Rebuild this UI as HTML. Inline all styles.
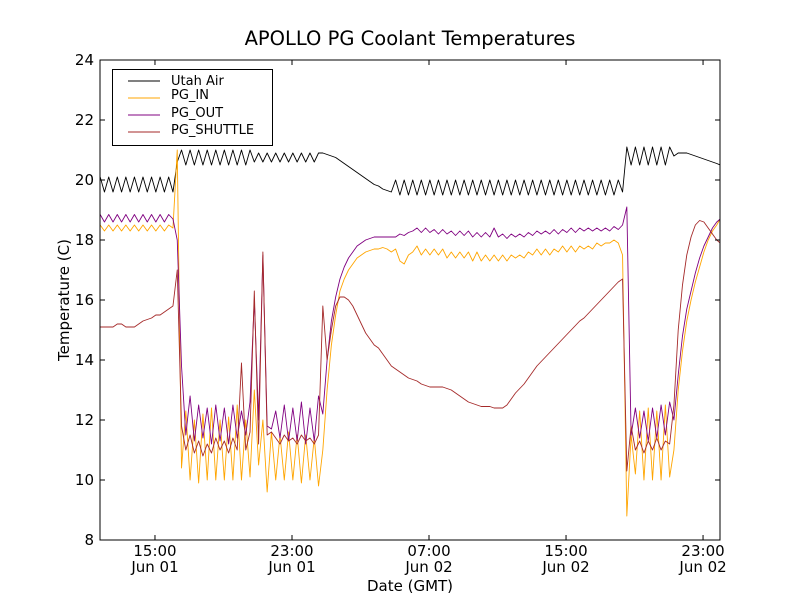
<!DOCTYPE html>
<html><head><meta charset="utf-8"><style>
body{margin:0;background:#fff}
svg{display:block;font-family:"DejaVu Sans","Liberation Sans",sans-serif}
</style></head><body>
<svg id="chart" width="800" height="600" viewBox="0 0 800 600" xmlns="http://www.w3.org/2000/svg">
<rect x="0" y="0" width="800" height="600" fill="#fff"/>
<text x="410" y="45" font-size="19.5" text-anchor="middle">APOLLO PG Coolant Temperatures</text>
<text x="410" y="591" font-size="15" text-anchor="middle">Date (GMT)</text>
<text transform="translate(69,300) rotate(-90)" font-size="15" text-anchor="middle">Temperature (C)</text>
<g id="plot"></g>
<rect x="100" y="60" width="620" height="480" fill="none" stroke="#000" stroke-width="1"/>
<g id="ticks"></g>
<g>
<rect x="112.5" y="69.5" width="160" height="76" fill="#fff" stroke="#000" stroke-width="1"/>
<g><line x1="128" y1="81" x2="160" y2="81" stroke="#000"/><text x="171" y="85" font-size="13">Utah Air</text></g>
<g><line x1="128" y1="98" x2="160" y2="98" stroke="#ffa500"/><text x="171" y="99" font-size="13">PG_IN</text></g>
<g><line x1="128" y1="115" x2="160" y2="115" stroke="#800080"/><text x="171" y="117" font-size="13">PG_OUT</text></g>
<g><line x1="128" y1="132" x2="160" y2="132" stroke="#a52a2a"/><text x="171" y="134" font-size="13">PG_SHUTTLE</text></g>
</g>
</svg>
<script>
const startHour = 11.8;
const stepHour = 0.25;
const yTicks = [8,10,12,14,16,18,20,22,24];
const xTickHours = [15,23,31,39,47];
const xTickTimes = ["15:00","23:00","07:00","15:00","23:00"];
const xTickDates = ["Jun 01","Jun 01","Jun 02","Jun 02","Jun 02"];
const utahAir = [20.1,19.6,20.1,19.6,20.1,19.6,20.1,19.6,20.1,19.6,20.1,19.6,20.1,19.6,20.1,19.6,20.1,19.6,
20.6,
21.0,20.5,21.0,20.5,21.0,20.5,21.0,20.5,21.0,20.5,21.0,20.5,21.0,20.5,21.0,20.5,21.0,20.6,20.9,20.6,20.9,20.6,20.9,20.6,20.9,20.6,20.9,20.6,20.9,20.6,20.9,20.6,20.9,
20.9,20.85,20.8,20.75,20.65,20.55,20.45,20.35,20.25,20.15,20.05,19.95,19.85,19.8,19.7,19.65,19.6,
20.0,19.5,20.0,19.5,20.0,19.5,20.0,19.5,20.0,19.5,20.0,19.5,20.0,19.5,20.0,19.5,20.0,19.5,20.0,19.5,20.0,19.5,20.0,19.5,20.0,19.5,20.0,19.5,20.0,19.5,20.0,19.5,20.0,19.5,20.0,19.5,20.0,19.5,20.0,19.5,20.0,19.5,20.0,19.5,20.0,19.5,20.0,19.5,20.0,19.5,20.0,19.5,20.0,
19.6,
21.1,20.5,21.1,20.5,21.1,20.5,21.1,20.5,21.1,20.5,21.1,
20.8,20.9,20.9,20.9,20.85,20.8,20.75,20.7,20.65,20.6,20.55,20.5];
const pgIn = [18.5,18.3,18.5,18.3,18.5,18.3,18.5,18.3,18.5,18.3,18.5,18.3,18.5,18.3,18.5,18.3,18.5,
18.4,21.0,
10.4,12.3,10.0,12.0,9.9,12.2,10.0,12.4,10.0,12.0,10.0,12.1,10.0,12.5,10.0,12.0,10.1,
13.0,10.5,12.0,9.6,11.6,
10.0,11.5,10.0,11.6,10.0,11.5,9.9,11.5,10.0,11.4,9.8,
11.0,13.0,14.5,15.5,16.3,16.7,17.0,17.2,17.4,17.5,17.6,17.65,17.7,17.7,17.75,17.7,17.6,17.7,17.3,17.2,17.5,
17.6,17.8,17.5,17.7,17.5,17.7,17.5,17.7,17.4,17.6,17.4,17.6,
17.4,17.6,17.3,17.6,17.3,17.5,17.3,17.5,17.3,17.5,17.3,17.5,17.4,17.5,17.4,17.6,
17.5,17.7,17.5,17.7,17.5,17.7,17.6,17.8,17.6,17.8,17.6,17.8,17.7,17.8,17.7,17.9,17.8,17.9,17.9,18.0,17.9,
17.5,8.8,11.5,
10.2,12.3,10.0,12.4,10.0,12.3,10.0,12.5,10.1,
11.0,13.0,14.3,15.3,16.0,16.6,17.1,17.6,18.0,18.3,18.5,18.7];
const pgOut = [18.85,18.6,18.85,18.6,18.85,18.6,18.85,18.6,18.85,18.6,18.85,18.6,18.85,18.6,18.85,18.6,18.85,
18.7,18.0,
13.8,11.5,12.8,11.3,12.5,11.4,12.4,11.2,12.5,11.3,12.4,11.2,12.5,11.4,12.3,11.5,12.6,
16.0,12.0,17.5,11.8,11.7,
12.3,11.4,12.5,11.3,12.4,11.3,12.6,11.2,12.4,11.3,12.8,
12.2,14.0,15.3,16.1,16.7,17.1,17.4,17.6,17.8,17.9,18.0,18.05,18.1,18.1,18.1,18.1,18.1,18.1,18.2,18.15,18.25,
18.3,18.4,18.25,18.4,18.25,18.35,18.2,18.35,18.2,18.3,18.15,18.3,
18.15,18.3,18.1,18.25,18.1,18.25,18.1,18.4,18.1,18.2,18.05,18.2,18.1,18.2,18.1,18.25,
18.15,18.3,18.2,18.3,18.2,18.35,18.2,18.35,18.25,18.4,18.25,18.4,18.3,18.4,18.3,18.4,18.3,18.4,18.3,18.45,18.35,
18.5,19.1,11.5,
12.4,11.4,12.3,11.3,12.4,11.4,12.5,11.5,12.6,
12.0,13.5,14.8,15.7,16.3,16.9,17.4,17.8,18.1,18.4,18.6,18.7];
const pgShuttle = [15.1,15.1,15.1,15.1,15.2,15.2,15.1,15.1,15.1,15.2,15.3,15.35,15.4,15.5,15.5,15.6,15.7,
15.8,17.0,
11.8,11.0,11.5,10.9,11.3,10.8,11.2,10.9,11.4,11.0,11.3,10.9,11.4,11.0,13.9,11.0,11.6,
16.3,11.2,17.6,11.5,11.6,
11.4,11.2,11.5,11.3,11.4,11.2,11.5,11.3,11.4,11.2,11.5,
15.8,14.0,15.0,15.8,16.1,16.1,16.0,15.8,15.5,15.2,14.9,14.7,14.5,14.4,14.2,14.0,13.8,13.7,13.6,13.5,13.4,
13.35,13.3,13.2,13.15,13.1,13.1,13.1,13.1,13.05,13.0,12.9,12.8,12.7,12.6,12.55,12.5,12.45,12.45,12.45,12.4,12.4,12.4,12.5,12.7,12.9,13.05,13.2,13.4,13.6,13.8,13.95,14.1,14.25,14.4,14.55,14.7,14.85,15.0,15.15,15.3,15.4,15.55,15.7,15.85,16.0,16.15,16.3,16.45,16.6,
16.7,10.3,11.8,
11.0,11.3,10.9,11.3,11.0,11.4,11.0,11.3,11.2,
12.5,15.0,16.5,17.5,18.1,18.5,18.65,18.6,18.4,18.2,18.0,17.9];

const NS='http://www.w3.org/2000/svg';
const X0=100,X1=720,Y0=540,Y1=60,H0=11.79,H1=47.99,V0=8,V1=24;
function xScale(h){return X0+(h-H0)/(H1-H0)*(X1-X0);}
function yScale(v){return Y0-(v-V0)/(V1-V0)*(Y0-Y1);}
function mk(tag,attrs){const e=document.createElementNS(NS,tag);for(const k in attrs)e.setAttribute(k,attrs[k]);return e;}
const plot=document.getElementById('plot');
const clip=mk('clipPath',{id:'pc'});clip.appendChild(mk('rect',{x:X0,y:Y1,width:X1-X0,height:Y0-Y1}));
document.getElementById('chart').insertBefore(clip,plot);
plot.setAttribute('clip-path','url(#pc)');
function drawSeries(vals,color,name){
  const pts=vals.map((v,i)=>{const h=Math.min(startHour+i*stepHour,48);return xScale(h).toFixed(2)+','+yScale(v).toFixed(2);});
  const p=mk('polyline',{points:pts.join(' '),fill:'none',stroke:color,'stroke-width':0.9,'stroke-linejoin':'round'});
  
  
  plot.appendChild(p);
}
drawSeries(utahAir,'#000','series-utah-air');
drawSeries(pgIn,'#ffa500','series-pg-in');
drawSeries(pgOut,'#800080','series-pg-out');
drawSeries(pgShuttle,'#a52a2a','series-pg-shuttle');
const tk=document.getElementById('ticks');
yTicks.forEach(v=>{
  const y=yScale(v);
  tk.appendChild(mk('line',{x1:X0,y1:y,x2:X0+5,y2:y,stroke:'#000'}));
  tk.appendChild(mk('line',{x1:X1,y1:y,x2:X1-5,y2:y,stroke:'#000'}));
  const t=mk('text',{x:X0-6,y:y+5,'font-size':15,'text-anchor':'end'});
  t.textContent=String(v);
  
  
  tk.appendChild(t);
});
xTickHours.forEach((h,i)=>{
  const x=xScale(h);
  tk.appendChild(mk('line',{x1:x,y1:Y0,x2:x,y2:Y0-5,stroke:'#000'}));
  tk.appendChild(mk('line',{x1:x,y1:Y1,x2:x,y2:Y1+5,stroke:'#000'}));
  const t=mk('text',{x:x,y:556,'font-size':15,'text-anchor':'middle'});
  t.textContent=xTickTimes[i];
  
  
  tk.appendChild(t);
  const d=mk('text',{x:x,y:572,'font-size':15,'text-anchor':'middle'});
  d.textContent=xTickDates[i];
  
  
  tk.appendChild(d);
});
</script>
</body></html>
